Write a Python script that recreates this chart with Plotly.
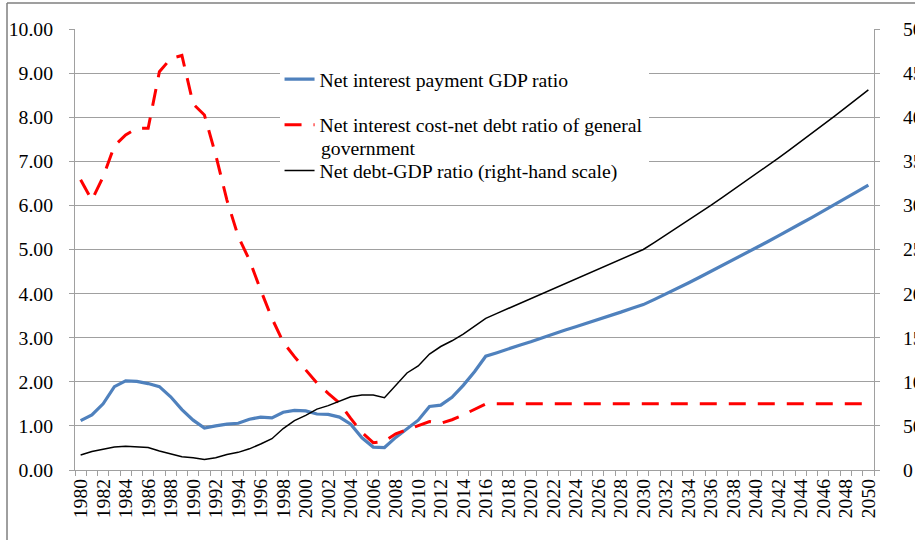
import plotly.graph_objects as go

# years on the category axis
years = list(range(1980, 2051))

# Net interest payment / GDP (%), left scale
interest_gdp = [
    1.12, 1.25, 1.50, 1.89, 2.02, 2.01, 1.96, 1.89, 1.66, 1.37,
    1.13, 0.95, 1.00, 1.04, 1.06, 1.15, 1.20, 1.18, 1.31, 1.35,
    1.34, 1.27, 1.26, 1.20, 1.04, 0.73, 0.52, 0.51, 0.74, 0.93,
    1.13, 1.44, 1.47, 1.65, 1.92, 2.23, 2.58, 2.66, 2.75, 2.83,
    2.91, 3.00, 3.08, 3.17, 3.25, 3.33, 3.42, 3.50, 3.58, 3.67,
    3.75, 3.87, 3.99, 4.12, 4.24, 4.37, 4.50, 4.63, 4.76, 4.90,
    5.03, 5.17, 5.31, 5.44, 5.59, 5.73, 5.87, 6.02, 6.17, 6.31,
    6.46,
]

# Net interest cost / net debt of general government (%), left scale
interest_debt = [
    6.58, 6.12, 6.65, 7.35, 7.60, 7.75, 7.75, 9.03, 9.33, 9.40,
    8.30, 8.05, 7.15, 6.12, 5.30, 4.76, 4.08, 3.44, 2.90, 2.57,
    2.27, 1.97, 1.74, 1.52, 1.17, 0.85, 0.62, 0.65, 0.82, 0.91,
    1.01, 1.10, 1.06, 1.14, 1.25, 1.38, 1.50, 1.50, 1.50, 1.50,
    1.50, 1.50, 1.50, 1.50, 1.50, 1.50, 1.50, 1.50, 1.50, 1.50,
    1.50, 1.50, 1.50, 1.50, 1.50, 1.50, 1.50, 1.50, 1.50, 1.50,
    1.50, 1.50, 1.50, 1.50, 1.50, 1.50, 1.50, 1.50, 1.50, 1.50,
    1.50,
]

# Net debt / GDP (%), right scale
debt_gdp = [
    17.0, 21.0, 23.5, 26.0, 27.0, 26.5, 25.5, 21.5, 18.0, 15.0,
    14.0, 12.0, 14.0, 17.5, 20.0, 24.0, 29.5, 35.5, 47.0, 56.0,
    62.0, 69.0, 73.0, 78.0, 83.0, 85.0, 85.0, 82.0, 96.0, 110.0,
    118.0, 131.5, 140.0, 146.5, 154.0, 162.5, 172.0, 177.6, 183.1, 188.7,
    194.3, 199.9, 205.4, 211.0, 216.6, 222.1, 227.7, 233.3, 238.9, 244.4,
    250.0, 258.1, 266.3, 274.5, 282.9, 291.4, 300.0, 308.7, 317.5, 326.4,
    335.4, 344.5, 353.7, 363.0, 372.4, 381.9, 391.5, 401.2, 411.1, 421.0,
    431.0,
]

left_ticks = [i * 1.0 for i in range(11)]
right_ticks = list(range(0, 501, 50))

FONT = "Liberation Serif"
FSIZE = 19.7
GRID = "#a0a0a0"

fig = go.Figure()
fig.add_trace(go.Scatter(
    name="Net interest payment GDP ratio",
    x=years, y=interest_gdp, mode="lines",
    line=dict(color="#4f81bd", width=3.2),
    legendgroup="a",
))
# the legend entry wraps onto a second line ("government"), added as a note below
fig.add_trace(go.Scatter(
    name="Net interest cost-net debt ratio of general",
    x=years, y=interest_debt, mode="lines",
    line=dict(color="#ff0000", width=3, dash="17px,12px"),
    legendgroup="b",
))
fig.add_trace(go.Scatter(
    name="Net debt-GDP ratio (right-hand scale)",
    x=years, y=debt_gdp, mode="lines",
    line=dict(color="black", width=1.5),
    yaxis="y2", legendgroup="c",
))

fig.update_layout(
    width=915, height=540,
    margin=dict(l=75, r=41, t=29, b=70, autoexpand=False),
    paper_bgcolor="white", plot_bgcolor="white",
    font=dict(family=FONT, size=FSIZE, color="black"),
    showlegend=True,
    legend=dict(
        x=0.256, y=0.93, xanchor="left", yanchor="top",
        bgcolor="white", borderwidth=0,
        font=dict(family=FONT, size=FSIZE),
        tracegroupgap=17, valign="middle",
    ),
    xaxis=dict(
        range=[1979.5, 2050.5],
        tickmode="array",
        tickvals=years[::2],
        ticktext=[str(y) for y in years[::2]],
        tickangle=-90,
        ticks="",
        showgrid=False, zeroline=False, automargin=False,
        showline=True, linecolor=GRID, linewidth=1,
        minor=dict(tick0=1979.5, dtick=1, ticks="outside", ticklen=5,
                   tickcolor=GRID, showgrid=False),
        tickfont=dict(family=FONT, size=FSIZE),
    ),
    yaxis=dict(
        range=[0, 10], tickvals=left_ticks, tickformat=".2f",
        showgrid=True, gridcolor=GRID, gridwidth=1, zeroline=False,
        showline=True, linecolor=GRID, linewidth=1, automargin=False,
        ticks="outside", ticklen=5, tickcolor=GRID,
        ticklabelstandoff=12,
        tickfont=dict(family=FONT, size=FSIZE),
    ),
    yaxis2=dict(
        range=[0, 500], tickvals=right_ticks, overlaying="y", side="right",
        showgrid=False, zeroline=False, automargin=False,
        showline=True, linecolor=GRID, linewidth=1,
        ticks="outside", ticklen=5, tickcolor=GRID,
        ticklabelstandoff=19,
        tickfont=dict(family=FONT, size=FSIZE),
    ),
)

fig.add_annotation(
    text="government", xref="paper", yref="paper",
    x=0.3054, y=0.730, xanchor="left", yanchor="middle",
    showarrow=False, font=dict(family=FONT, size=FSIZE, color="black"),
)

# outer chart frame (only its top and left edges fall inside the picture)
fig.add_shape(type="line", xref="paper", yref="paper",
              x0=-0.0851, x1=1.06, y0=1.059, y1=1.059,
              line=dict(color="#7f7f7f", width=1.5))
fig.add_shape(type="line", xref="paper", yref="paper",
              x0=-0.0851, x1=-0.0851, y0=1.059, y1=-0.2,
              line=dict(color="#7f7f7f", width=1.5))

fig.write_html("out.html", config={"displayModeBar": False},
               post_script="document.body.style.margin='0px';")
